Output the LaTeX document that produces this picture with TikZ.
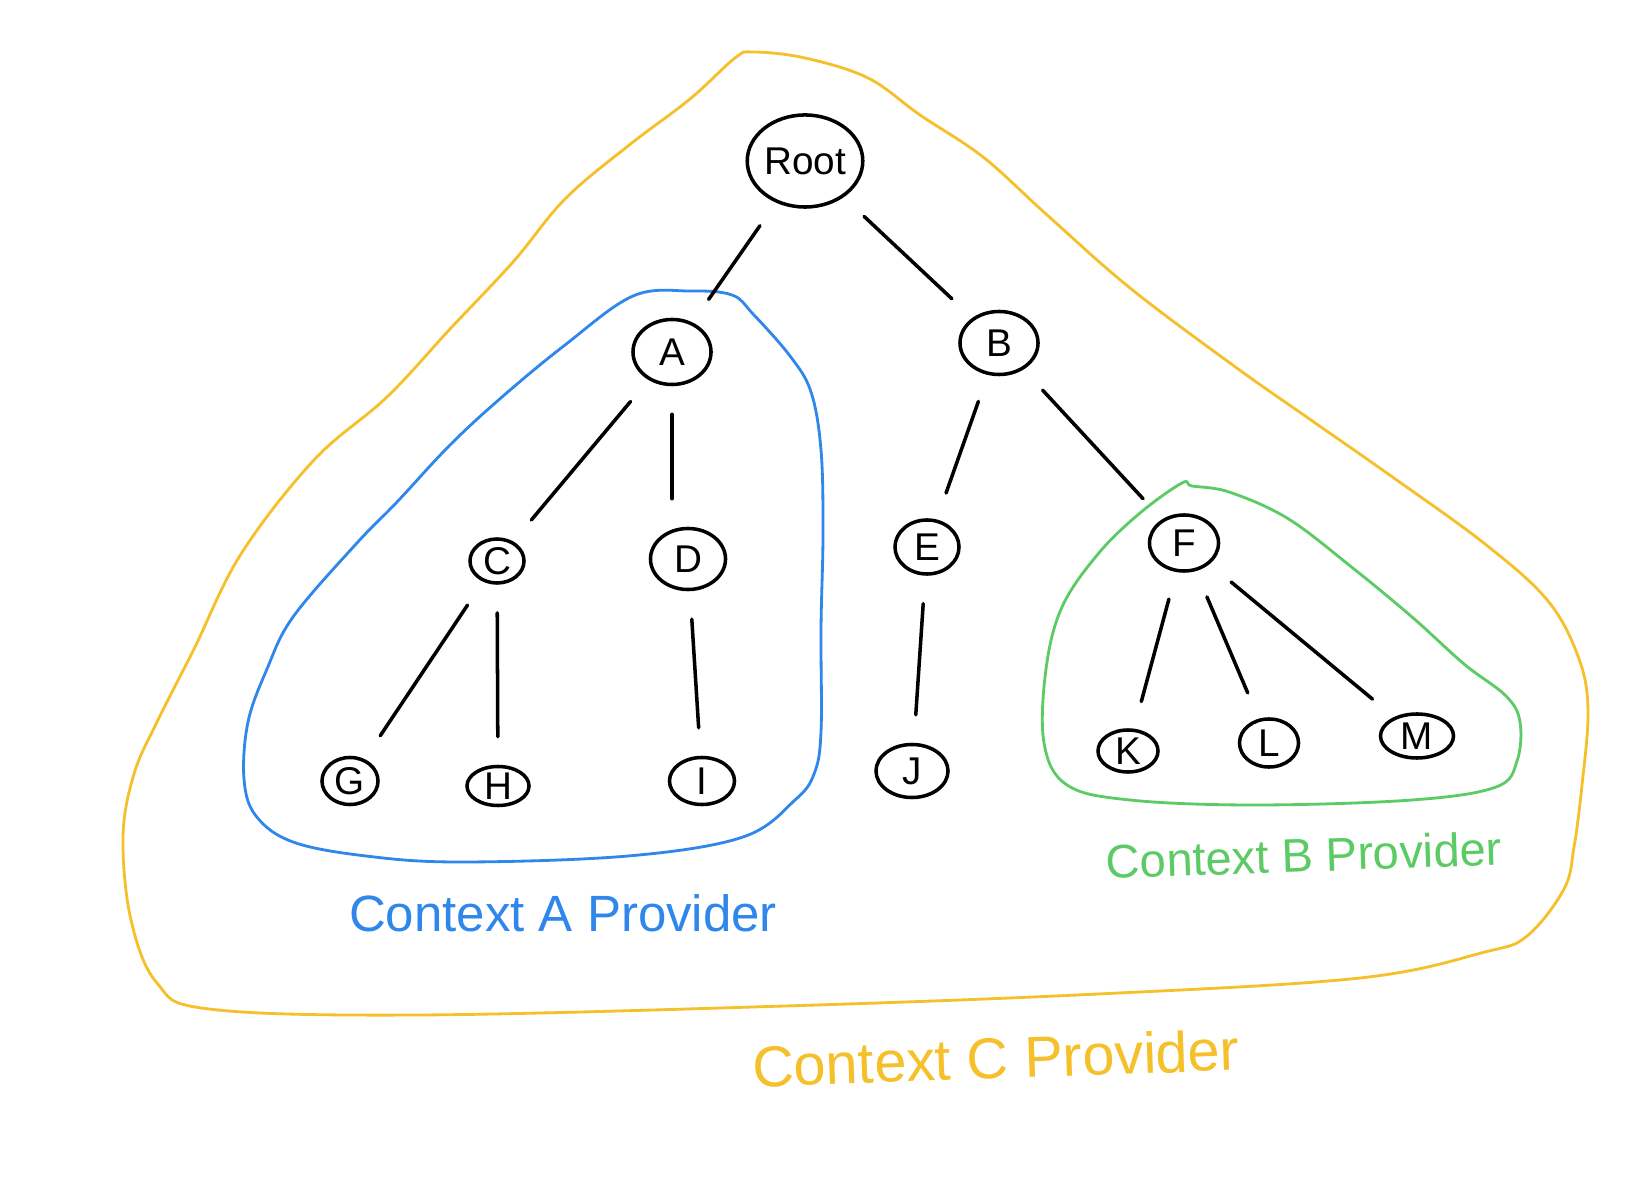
\documentclass[tikz,border=0pt]{standalone}
\usepackage{fontspec}
\setmainfont{Liberation Sans}
\usetikzlibrary{shapes.geometric}
\definecolor{ctxA}{RGB}{47,134,235}
\definecolor{ctxB}{RGB}{92,203,102}
\definecolor{ctxC}{RGB}{245,192,42}
\tikzset{
  tnode/.style={draw=black, ellipse, line width=1pt, inner sep=0pt, font=\fontsize{11}{13}\selectfont},
  edge/.style={draw=black, line width=1pt, line cap=round, shorten >=0.28cm, shorten <=0.28cm},
  blob/.style={line width=0.8pt, line join=round},
  ctxlabel/.style={inner sep=0pt}
}
\begin{document}
\begin{tikzpicture}[x=0.01cm,y=-0.01cm]
\useasboundingbox[fill=white] (0,0) rectangle (1640,1183);

% Context C (yellow)
\draw[blob, ctxC] plot[smooth cycle, tension=0.6] coordinates {
(735,58)(753,52)(805,58)(868,78)(920,115)(983,157)(1046,214)(1130,288)(1234,366)(1308,418)
(1391,476)(1485,544)(1548,601)(1579,659)(1588,711)(1582,785)(1574,847)(1564,889)(1527,936)
(1485,952)(1360,978)(1098,994)(785,1006)(418,1015)(209,1009)(157,983)(131,920)(123,837)
(134,774)(157,722)(194,649)(241,554)(314,460)(387,397)(450,329)(513,262)(565,199)(628,146)(690,99)};

% Context A (blue)
\draw[blob, ctxA] plot[smooth cycle, tension=0.6] coordinates {
(633,296)(690,291)(732,295)(753,314)(790,356)(811,392)(821,450)(823,533)(821,628)(821,732)
(814,774)(795,800)(743,837)(628,856)(460,862)(366,856)(293,842)(256,816)(244,779)(248,722)
(267,669)(293,617)(356,544)(397,502)(450,445)(502,397)(565,345)};

% Context B (green)
\draw[blob, ctxB] plot[smooth cycle, tension=0.6] coordinates {
(1192,486)(1229,492)(1287,518)(1349,565)(1412,617)(1464,664)(1506,696)(1520,722)(1517,761)
(1496,787)(1412,800)(1255,805)(1130,800)(1067,785)(1044,743)(1046,669)(1062,607)(1098,554)
(1140,513)(1182,483)};

% Nodes
\node[tnode, minimum width=1.09cm, minimum height=0.92cm] (root) at (805,161) {Root};
\node[tnode, minimum width=0.78cm, minimum height=0.65cm] (a) at (672,352) {A};
\node[tnode, minimum width=0.78cm, minimum height=0.63cm] (b) at (999,343) {B};
\node[tnode, minimum width=0.54cm, minimum height=0.44cm] (c) at (497,561) {C};
\node[tnode, minimum width=0.75cm, minimum height=0.61cm] (d) at (688,559) {D};
\node[tnode, minimum width=0.64cm, minimum height=0.54cm] (e) at (927,547) {E};
\node[tnode, minimum width=0.69cm, minimum height=0.56cm] (f) at (1184,543) {F};
\node[tnode, minimum width=0.56cm, minimum height=0.47cm] (g) at (350,781) {G};
\node[tnode, minimum width=0.62cm, minimum height=0.39cm] (h) at (498,786) {H};
\node[tnode, minimum width=0.65cm, minimum height=0.47cm] (i) at (702,781) {I};
\node[tnode, minimum width=0.72cm, minimum height=0.53cm] (j) at (912,771) {J};
\node[tnode, minimum width=0.60cm, minimum height=0.42cm] (k) at (1128,751) {K};
\node[tnode, minimum width=0.59cm, minimum height=0.48cm] (l) at (1269,743) {L};
\node[tnode, minimum width=0.73cm, minimum height=0.44cm] (m) at (1417,736) {M};

% Edges
\draw[edge] (root) -- (a);
\draw[edge] (root) -- (b);
\draw[edge] (a) -- (c);
\draw[edge] (a.south) -- (a.south |- d.north);
\draw[edge] (b) -- (e);
\draw[edge] (b) -- (f);
\draw[edge] (c) -- (g);
\draw[edge] (c) -- (h);
\draw[edge] (d) -- (i);
\draw[edge] (e) -- (j);
\draw[edge] (f) -- (k);
\draw[edge] (f) -- (l);
\draw[edge] (f) -- (m);

% Labels
\node[ctxlabel, text=ctxA, font=\fontsize{14.5}{17}\selectfont] (la) at (563,913) {Context A Provider};
\node[ctxlabel, text=ctxB, font=\fontsize{13.4}{16}\selectfont, rotate=2] (lb) at (1304,855) {Context B Provider};
\node[ctxlabel, text=ctxC, font=\fontsize{16.4}{19}\selectfont, rotate=2] (lc) at (996,1058) {Context C Provider};
\end{tikzpicture}
\end{document}
